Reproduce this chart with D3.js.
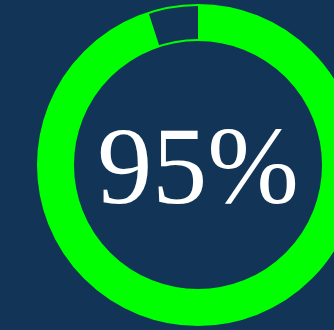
<!DOCTYPE html>
<meta charset="utf-8">
<title>Progress ring</title>
<style>
body { margin: 0; background: #123456; overflow: hidden; }
</style>
<body>
<script src="https://d3js.org/d3.v7.min.js"></script>
<script>

var labels = ["95%"];
var values = [95];
var maxValue = 100;

var width = 334,
    height = 330;
var cx = 198, cy = 165;
var outerRadius = 160,
    innerRadius = 125;

var svg = d3.select("body")
  .append("svg")
  .attr("width", width)
  .attr("height", height);

svg.append("rect")
  .attr("width", width)
  .attr("height", height)
  .attr("fill", "#123456");

var angle = d3.scaleLinear()
  .domain([0, maxValue])
  .range([0, 2 * Math.PI]);

var arc = d3.arc()
  .innerRadius(innerRadius)
  .outerRadius(outerRadius)
  .startAngle(0);

var g = svg.append("g")
  .attr("transform", "translate(" + cx + "," + cy + ")");

// track
g.append("path")
  .attr("d", arc({endAngle: angle(maxValue)}))
  .attr("fill", "none")
  .attr("stroke", "#00ff00")
  .attr("stroke-width", 2);

// value
g.selectAll(".value")
  .data(values)
  .enter().append("path")
    .attr("class", "value")
    .attr("d", function(d) { return arc({endAngle: angle(d)}); })
    .attr("fill", "#00ff00");

g.selectAll(".label")
  .data(labels)
  .enter().append("text")
    .attr("class", "label")
    .attr("text-anchor", "middle")
    .attr("y", 38)
    .attr("fill", "#ffffff")
    .style("font-family", "'Liberation Serif', 'DejaVu Serif', serif")
    .style("font-size", "110px")
    .text(function(d) { return d; });

</script>
</body>
